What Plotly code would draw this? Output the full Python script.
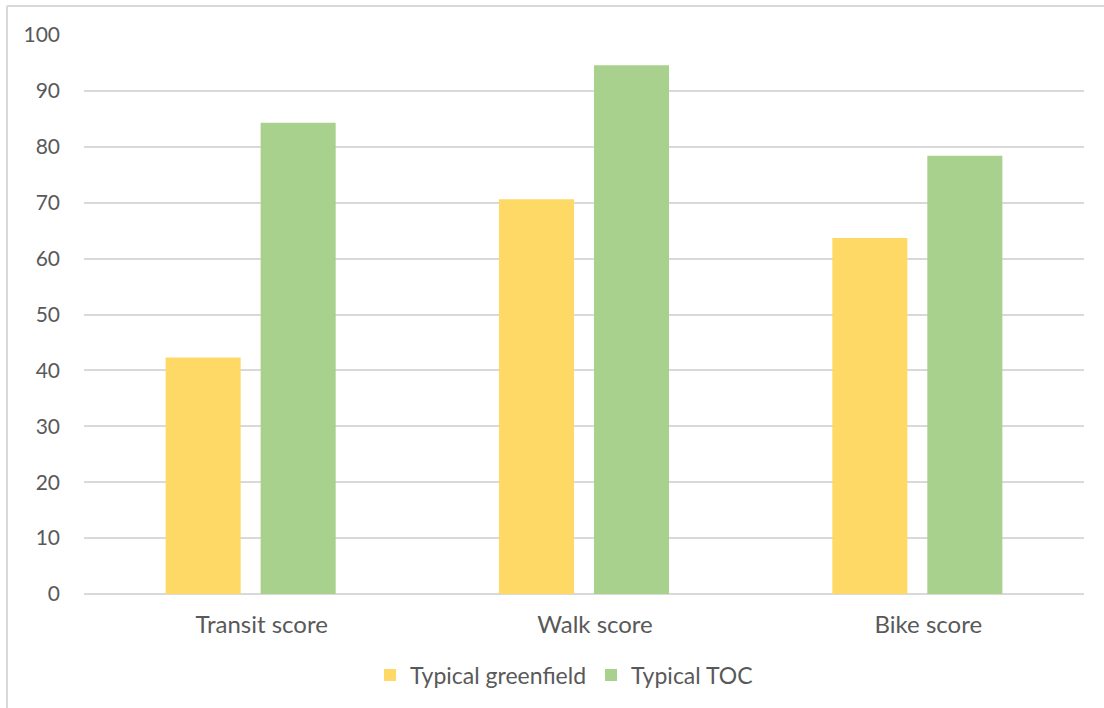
import plotly.graph_objects as go

categories = ["Transit score", "Walk score", "Bike score"]
greenfield = [42.3, 70.6, 63.7]
toc = [84.3, 94.6, 78.4]
series_names = ["Typical greenfield", "Typical TOC"]
y_ticks = [0, 10, 20, 30, 40, 50, 60, 70, 80, 90, 100]

L, R, T, B = 84, 20, 35, 114
W, H = 1104, 708
pw, ph = W - L - R, H - T - B

def px2x(p):
    return (p - L) / pw

def px2y(q):
    return (H - B - q) / ph

fig = go.Figure()
fig.add_trace(go.Bar(x=categories, y=greenfield, name=series_names[0],
                     marker=dict(color="#FFD966", line=dict(width=0))))
fig.add_trace(go.Bar(x=categories, y=toc, name=series_names[1],
                     marker=dict(color="#A9D18E", line=dict(width=0))))

font_family = "Lato, Noto Sans, sans-serif"
text_color = "#595959"
fig.update_layout(
    width=W, height=H,
    margin=dict(l=L, r=R, t=T, b=B),
    paper_bgcolor="white", plot_bgcolor="white",
    barmode="group", bargap=0.43, bargroupgap=0.21,
    font=dict(family=font_family, size=22, color=text_color),
    showlegend=True,
    legend=dict(orientation="h", x=0.5 - 20 / pw, xanchor="center", y=px2y(675), yanchor="middle",
                font=dict(size=23, color=text_color), itemwidth=30, traceorder="normal"),
    xaxis=dict(showgrid=False, showline=False, ticks="", ticklabelstandoff=14, ticklabelshift=11,
               tickfont=dict(size=24, color=text_color)),
    yaxis=dict(range=[0, 100], tickvals=y_ticks, showgrid=True, gridcolor="#D9D9D9", gridwidth=1.5,
               zeroline=True, zerolinecolor="#D9D9D9", zerolinewidth=1.5, showline=False,
               ticks="", ticklabelstandoff=23, tickfont=dict(size=21, color=text_color)),
)

fig.add_shape(type="line", xref="paper", yref="paper", x0=px2x(7), x1=px2x(7), y0=px2y(6), y1=px2y(708),
              line=dict(color="#D9D9D9", width=2))
fig.add_shape(type="line", xref="paper", yref="paper", x0=px2x(7), x1=px2x(1104), y0=px2y(6), y1=px2y(6),
              line=dict(color="#D9D9D9", width=2))

fig.write_html("out.html")
